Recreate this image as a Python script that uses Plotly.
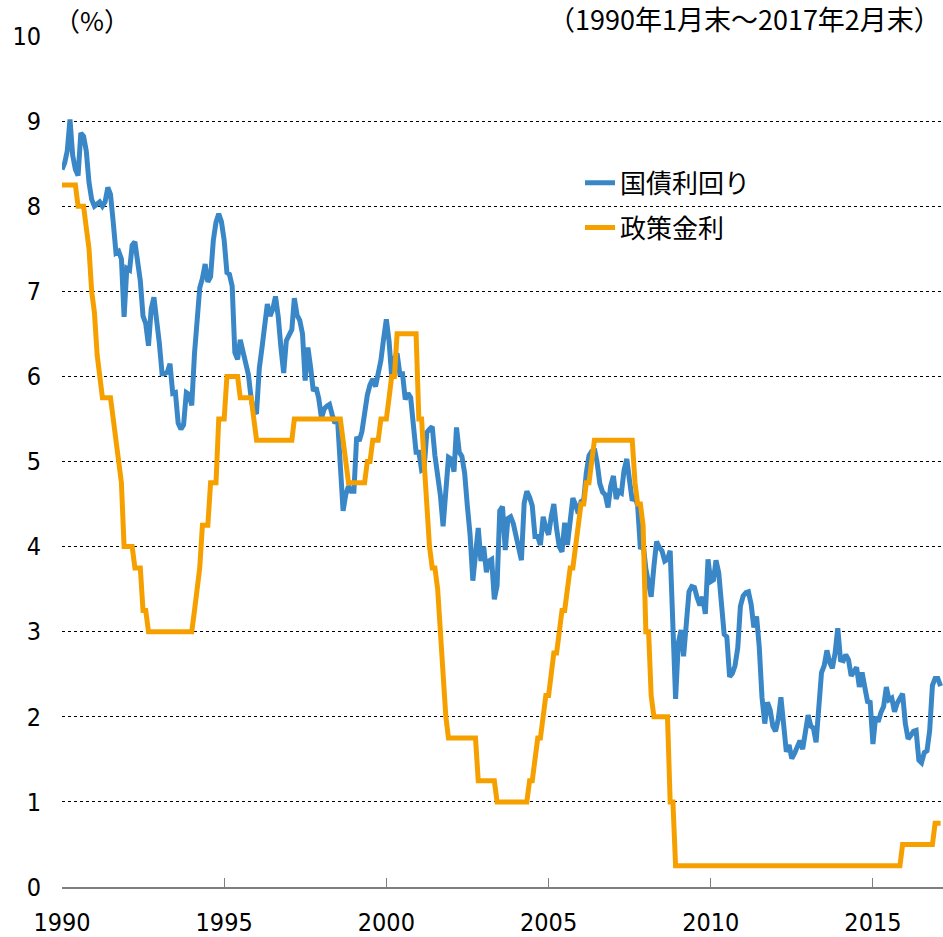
import pandas as pd
import plotly.graph_objects as go

# US 10-year treasury yield vs policy rate, month-end, 1990-01 .. 2017-02
bond_yield = [
    8.43, 8.51, 8.65, 9.02, 8.60, 8.43, 8.36, 8.86, 8.82, 8.65, 8.28, 8.08,  # 1990
    8.00, 8.03, 8.05, 8.00, 8.05, 8.22, 8.14, 7.81, 7.45, 7.47, 7.38, 6.70,  # 1991
    7.27, 7.25, 7.54, 7.58, 7.32, 7.12, 6.71, 6.62, 6.36, 6.79, 6.93, 6.70,  # 1992
    6.39, 6.03, 6.03, 6.05, 6.15, 5.80, 5.81, 5.45, 5.38, 5.43, 5.81, 5.79,  # 1993
    5.66, 6.27, 6.74, 7.04, 7.15, 7.32, 7.11, 7.17, 7.60, 7.81, 7.91, 7.82,  # 1994
    7.60, 7.22, 7.20, 7.06, 6.28, 6.20, 6.43, 6.28, 6.17, 6.02, 5.74, 5.57,  # 1995
    5.58, 6.10, 6.33, 6.67, 6.85, 6.71, 6.79, 6.94, 6.70, 6.34, 6.04, 6.42,  # 1996
    6.49, 6.55, 6.92, 6.72, 6.66, 6.50, 5.95, 6.34, 6.10, 5.83, 5.87, 5.74,  # 1997
    5.51, 5.62, 5.65, 5.67, 5.55, 5.45, 5.49, 5.00, 4.42, 4.61, 4.71, 4.65,  # 1998
    4.65, 5.29, 5.24, 5.35, 5.62, 5.78, 5.90, 5.97, 5.88, 6.02, 6.19, 6.44,  # 1999
    6.67, 6.41, 6.00, 6.21, 6.27, 6.03, 6.03, 5.73, 5.80, 5.75, 5.47, 5.11,  # 2000
    5.11, 4.90, 4.92, 5.34, 5.38, 5.41, 5.07, 4.84, 4.60, 4.24, 4.75, 5.05,  # 2001
    5.03, 4.88, 5.40, 5.11, 5.06, 4.86, 4.48, 4.14, 3.60, 3.93, 4.22, 3.83,  # 2002
    4.00, 3.70, 3.83, 3.85, 3.38, 3.54, 4.42, 4.47, 3.96, 4.33, 4.35, 4.27,  # 2003
    4.13, 3.97, 3.84, 4.51, 4.65, 4.58, 4.48, 4.12, 4.12, 4.02, 4.35, 4.22,  # 2004
    4.14, 4.36, 4.50, 4.21, 4.00, 3.94, 4.28, 4.02, 4.34, 4.57, 4.49, 4.39,  # 2005
    4.53, 4.55, 4.86, 5.07, 5.12, 5.15, 4.99, 4.74, 4.64, 4.61, 4.46, 4.71,  # 2006
    4.83, 4.56, 4.65, 4.63, 4.90, 5.03, 4.78, 4.54, 4.59, 4.48, 3.97, 4.04,  # 2007
    3.74, 3.53, 3.41, 3.77, 4.06, 3.99, 3.95, 3.83, 3.85, 3.95, 2.93, 2.21,  # 2008
    2.87, 3.02, 2.71, 3.16, 3.47, 3.53, 3.52, 3.40, 3.31, 3.41, 3.21, 3.85,  # 2009
    3.59, 3.61, 3.84, 3.69, 3.31, 2.97, 2.94, 2.47, 2.51, 2.60, 2.81, 3.30,  # 2010
    3.42, 3.46, 3.47, 3.32, 3.05, 3.18, 2.82, 2.23, 1.92, 2.17, 2.08, 1.89,  # 2011
    1.83, 1.98, 2.23, 1.95, 1.59, 1.67, 1.51, 1.57, 1.65, 1.72, 1.62, 1.78,  # 2012
    2.02, 1.89, 1.87, 1.70, 2.16, 2.52, 2.60, 2.78, 2.64, 2.57, 2.75, 3.04,  # 2013
    2.67, 2.66, 2.73, 2.67, 2.48, 2.53, 2.58, 2.35, 2.52, 2.35, 2.18, 2.17,  # 2014
    1.68, 2.00, 1.94, 2.05, 2.12, 2.35, 2.20, 2.22, 2.06, 2.16, 2.21, 2.27,  # 2015
    1.92, 1.74, 1.78, 1.83, 1.84, 1.49, 1.46, 1.58, 1.60, 1.84, 2.37, 2.45,  # 2016
    2.45, 2.36,                                                              # 2017
]

policy_rate = [
    8.25, 8.25, 8.25, 8.25, 8.25, 8.25, 8.00, 8.00, 8.00, 7.75, 7.50, 7.00,  # 1990
    6.75, 6.25, 6.00, 5.75, 5.75, 5.75, 5.75, 5.50, 5.25, 5.00, 4.75, 4.00,  # 1991
    4.00, 4.00, 4.00, 3.75, 3.75, 3.75, 3.25, 3.25, 3.00, 3.00, 3.00, 3.00,  # 1992
    3.00, 3.00, 3.00, 3.00, 3.00, 3.00, 3.00, 3.00, 3.00, 3.00, 3.00, 3.00,  # 1993
    3.00, 3.25, 3.50, 3.75, 4.25, 4.25, 4.25, 4.75, 4.75, 4.75, 5.50, 5.50,  # 1994
    5.50, 6.00, 6.00, 6.00, 6.00, 6.00, 5.75, 5.75, 5.75, 5.75, 5.75, 5.50,  # 1995
    5.25, 5.25, 5.25, 5.25, 5.25, 5.25, 5.25, 5.25, 5.25, 5.25, 5.25, 5.25,  # 1996
    5.25, 5.25, 5.50, 5.50, 5.50, 5.50, 5.50, 5.50, 5.50, 5.50, 5.50, 5.50,  # 1997
    5.50, 5.50, 5.50, 5.50, 5.50, 5.50, 5.50, 5.50, 5.25, 5.00, 4.75, 4.75,  # 1998
    4.75, 4.75, 4.75, 4.75, 4.75, 5.00, 5.00, 5.25, 5.25, 5.25, 5.50, 5.50,  # 1999
    5.50, 5.75, 6.00, 6.00, 6.50, 6.50, 6.50, 6.50, 6.50, 6.50, 6.50, 6.50,  # 2000
    5.50, 5.50, 5.00, 4.50, 4.00, 3.75, 3.75, 3.50, 3.00, 2.50, 2.00, 1.75,  # 2001
    1.75, 1.75, 1.75, 1.75, 1.75, 1.75, 1.75, 1.75, 1.75, 1.75, 1.25, 1.25,  # 2002
    1.25, 1.25, 1.25, 1.25, 1.25, 1.00, 1.00, 1.00, 1.00, 1.00, 1.00, 1.00,  # 2003
    1.00, 1.00, 1.00, 1.00, 1.00, 1.25, 1.25, 1.50, 1.75, 1.75, 2.00, 2.25,  # 2004
    2.25, 2.50, 2.75, 2.75, 3.00, 3.25, 3.25, 3.50, 3.75, 3.75, 4.00, 4.25,  # 2005
    4.50, 4.50, 4.75, 4.75, 5.00, 5.25, 5.25, 5.25, 5.25, 5.25, 5.25, 5.25,  # 2006
    5.25, 5.25, 5.25, 5.25, 5.25, 5.25, 5.25, 5.25, 4.75, 4.50, 4.50, 4.25,  # 2007
    3.00, 3.00, 2.25, 2.00, 2.00, 2.00, 2.00, 2.00, 2.00, 1.00, 1.00, 0.25,  # 2008
    0.25, 0.25, 0.25, 0.25, 0.25, 0.25, 0.25, 0.25, 0.25, 0.25, 0.25, 0.25,  # 2009
    0.25, 0.25, 0.25, 0.25, 0.25, 0.25, 0.25, 0.25, 0.25, 0.25, 0.25, 0.25,  # 2010
    0.25, 0.25, 0.25, 0.25, 0.25, 0.25, 0.25, 0.25, 0.25, 0.25, 0.25, 0.25,  # 2011
    0.25, 0.25, 0.25, 0.25, 0.25, 0.25, 0.25, 0.25, 0.25, 0.25, 0.25, 0.25,  # 2012
    0.25, 0.25, 0.25, 0.25, 0.25, 0.25, 0.25, 0.25, 0.25, 0.25, 0.25, 0.25,  # 2013
    0.25, 0.25, 0.25, 0.25, 0.25, 0.25, 0.25, 0.25, 0.25, 0.25, 0.25, 0.25,  # 2014
    0.25, 0.25, 0.25, 0.25, 0.25, 0.25, 0.25, 0.25, 0.25, 0.25, 0.25, 0.50,  # 2015
    0.50, 0.50, 0.50, 0.50, 0.50, 0.50, 0.50, 0.50, 0.50, 0.50, 0.50, 0.75,  # 2016
    0.75, 0.75,                                                              # 2017
]

months = pd.date_range("1990-01-01", periods=len(bond_yield), freq="MS")
tick_years = [1990, 1995, 2000, 2005, 2010, 2015]
y_ticks = list(range(0, 11))

BLUE = "#3A87C8"
ORANGE = "#F6A000"
NUM_FONT = "DejaVu Sans Condensed, Liberation Sans Narrow, Noto Sans CJK JP, sans-serif"
JP_FONT = "Noto Sans CJK JP, sans-serif"

fig = go.Figure()

fig.add_trace(go.Scatter(
    x=months, y=bond_yield, name="国債利回り", mode="lines",
    line=dict(color=BLUE, width=5), legendgroup="a",
))
fig.add_trace(go.Scatter(
    x=months, y=policy_rate, name="政策金利", mode="lines",
    line=dict(color=ORANGE, width=5), legendgroup="b",
))

fig.update_xaxes(
    range=["1990-01-01", "2017-02-28"],
    tickvals=[f"{y}-01-01" for y in tick_years],
    ticktext=[str(y) for y in tick_years],
    showgrid=False, zeroline=False,
    showline=True, linecolor="#7f7f7f", linewidth=1.5,
    ticks="inside", ticklen=9, tickwidth=1, tickcolor="#7f7f7f",
    ticklabelstandoff=12,
    tickfont=dict(family=NUM_FONT, size=25, color="black"),
)
fig.update_yaxes(
    range=[0, 10], tickvals=y_ticks,
    showgrid=True, gridcolor="black", gridwidth=1, griddash="dot",
    zeroline=False, showline=False, ticks="",
    ticklabelstandoff=20,
    tickfont=dict(family=NUM_FONT, size=25, color="black"),
)

# white box behind the legend hides the gridline there
fig.add_shape(
    type="rect", xref="paper", yref="y",
    x0=(500 - 62) / 881, x1=(826 - 62) / 881, y0=7.6, y1=8.45,
    fillcolor="white", line_width=0, layer="between",
)

fig.add_annotation(
    text="（%）", xref="paper", yref="paper", x=0.0, y=1.0,
    xanchor="left", yanchor="bottom", showarrow=False, yshift=-4, xshift=-10,
    font=dict(family=JP_FONT, size=26, color="black"),
)
fig.add_annotation(
    text="（1990年1月末～2017年2月末）", xref="paper", yref="paper",
    x=1.0, y=1.0, xanchor="right", yanchor="bottom", showarrow=False, yshift=-4,
    font=dict(family=JP_FONT, size=27, color="black"),
)

fig.update_layout(
    width=943, height=937,
    margin=dict(l=62, r=0, t=36, b=46),
    plot_bgcolor="white", paper_bgcolor="white",
    showlegend=True,
    legend=dict(
        x=(580 - 62) / 881, y=(891 - 160) / 855, xanchor="left", yanchor="top",
        bgcolor="rgba(0,0,0,0)", borderwidth=0, tracegroupgap=8,
        font=dict(family=JP_FONT, size=26, color="black"),
    ),
)

# the page body has a default 8px margin; drop it so the figure fills the window
fig.write_html(
    "out.html",
    config={"displayModeBar": False},
    post_script="document.body.style.margin='0';",
)
